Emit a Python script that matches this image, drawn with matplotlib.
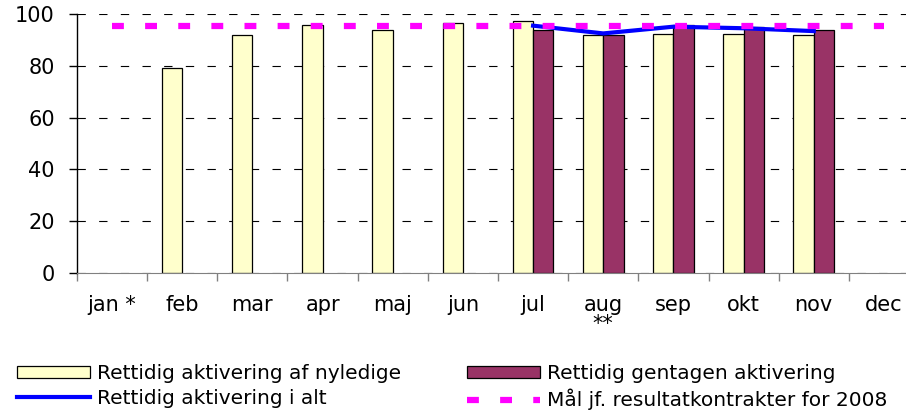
import numpy as np
import matplotlib as mpl
mpl.use('Agg')
import matplotlib.pyplot as plt
from matplotlib.patches import Patch
from matplotlib.lines import Line2D

months = ['jan *', 'feb', 'mar', 'apr', 'maj', 'jun', 'jul', 'aug\n**',
          'sep', 'okt', 'nov', 'dec']
nyledige = [np.nan, 79.0, 91.9, 95.9, 93.8, 96.5, 97.3, 91.9, 92.4, 92.4, 91.8, np.nan]
gentagen = [np.nan, np.nan, np.nan, np.nan, np.nan, np.nan, 93.8, 91.9, 95.8, 95.1, 93.7, np.nan]
i_alt = [np.nan, np.nan, np.nan, np.nan, np.nan, np.nan, 95.5, 92.5, 95.1, 94.5, 93.4, np.nan]
maal = [95.3] * 12

plt.rcParams.update({'font.family': 'DejaVu Sans', 'font.size': 15})

fig = plt.figure(figsize=[9.06, 4.13], dpi=100)
ax = fig.add_axes([77/906, 140/413, 842/906, 259/413])

x = np.arange(len(months))
w = 0.29
ax.bar(x - w/2, nyledige, w, color='#FFFFCC', edgecolor='black', linewidth=0.9, zorder=2)
ax.bar(x + w/2, gentagen, w, color='#993366', edgecolor='black', linewidth=0.9, zorder=2)
ax.plot(x, i_alt, color='#0000FF', linewidth=3, zorder=3)
ax.plot(x, maal, color='#FF00FF', linewidth=4.5, linestyle=(0, (1.9, 3.4)), zorder=4)

ax.set_xlim(-0.5, 11.5)
ax.set_ylim(0, 100)
ax.set_yticks([0, 20, 40, 60, 80, 100])
ax.yaxis.grid(True, color='black', linewidth=0.8, linestyle=(0, (7.5, 12)))
ax.set_axisbelow(True)

ax.set_xticks(x)
ax.set_xticklabels(months, linespacing=0.95)
ax.set_xticks(np.arange(-0.5, 12, 1), minor=True)
ax.tick_params(axis='x', which='major', length=0, pad=16)
ax.tick_params(axis='x', which='minor', length=6, color='#808080', width=1)
ax.tick_params(axis='y', length=6, width=1, pad=10)

for s in ['top', 'right']:
    ax.spines[s].set_visible(False)
ax.spines['bottom'].set_color('#808080')
ax.spines['left'].set_linewidth(1)

handles = [Patch(facecolor='#FFFFCC', edgecolor='black', linewidth=0.9),
           Line2D([], [], color='#0000FF', linewidth=3),
           Patch(facecolor='#993366', edgecolor='black', linewidth=0.9),
           Line2D([], [], color='#FF00FF', linewidth=4.5, linestyle=(0, (1.9, 3.4)))]
labels = ['Rettidig aktivering af nyledige', 'Rettidig aktivering i alt',
          'Rettidig gentagen aktivering', 'Mål jf. resultatkontrakter for 2008']
fig.legend(handles, labels, ncol=2, loc='upper left', bbox_to_anchor=(17/906, 1 - 364/413),
           frameon=False, fontsize=14.5, handlelength=3.6, handletextpad=0.35,
           columnspacing=3.3, labelspacing=0.28, borderaxespad=0, borderpad=0,
           handleheight=0.55)

plt.savefig('out.png', dpi=100)
